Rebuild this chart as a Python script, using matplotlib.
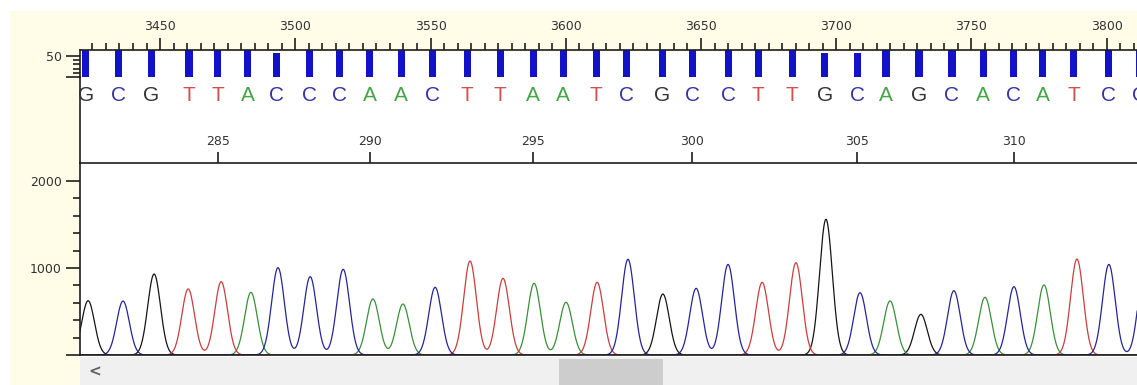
"""Sanger trace view: scan axis, quality bars, base calls and the four-dye chromatogram."""
import numpy as np
import matplotlib.pyplot as plt
import matplotlib.transforms as mtransforms
from matplotlib.patches import Rectangle

W, H = 1137, 385

# data
scan_ticks = [3450, 3500, 3550, 3600, 3650, 3700, 3750, 3800]
bases = "GCGTTACCCAACTTAATCGCCTTGCAGCACATCC"
first_base = 281
base_numbers = [285, 290, 295, 300, 305, 310]
# base call positions (scan units)
base_pos = [3422.6, 3434.8, 3446.7, 3460.7, 3471.4, 3482.5, 3492.9, 3505.1,
            3516.5, 3527.6, 3539.1, 3550.6, 3563.5, 3575.7, 3587.9, 3599.0,
            3611.2, 3622.6, 3635.6, 3646.7, 3660.0, 3671.1, 3683.7, 3695.8,
            3707.7, 3718.4, 3730.6, 3742.8, 3754.3, 3765.7, 3776.4, 3787.9,
            3800.5, 3812.3]
quality = [64, 64, 64, 64, 64, 64, 57, 64, 64, 64, 64, 64, 64, 64, 64, 64,
           64, 64, 64, 64, 64, 64, 64, 57, 57, 64, 64, 64, 64, 64, 64, 64,
           64, 64]
# trace peaks (scan units / signal)
peak_pos = [3423.4, 3436.3, 3447.8, 3460.4, 3472.6, 3483.6, 3493.6, 3505.5,
            3517.7, 3528.7, 3539.8, 3551.7, 3564.6, 3576.8, 3588.3, 3600.1,
            3611.6, 3623.0, 3635.9, 3648.2, 3660.0, 3672.6, 3685.1, 3696.2,
            3708.8, 3719.9, 3731.3, 3743.5, 3755.0, 3765.7, 3776.8, 3789.0,
            3800.8, 3814.0]
peak_height = [624, 620, 931, 759, 843, 720, 1004, 900, 985, 644, 586, 778,
               1080, 881, 824, 606, 835, 1100, 701, 766, 1041, 835, 1061, 1560,
               716, 621, 467, 739, 663, 785, 805, 1103, 1041, 1000]

trace_col = {'G': '#151515', 'C': '#25259a', 'T': '#cc3d3d', 'A': '#3a8f3a'}
letter_col = {'G': '#333333', 'C': '#3434a8', 'T': '#d45050', 'A': '#45a545'}
cream = '#fffde8'
ink = '#1e1e1e'

XMIN, XMAX = 3420.4, 3811.2


def rect(x0, y0, x1, y1):
    # pixel box (top-left origin) -> figure fraction
    return [x0 / W, 1 - y1 / H, (x1 - x0) / W, (y1 - y0) / H]


fig = plt.figure(figsize=(W / 100, H / 100), dpi=100)
fig.patch.set_facecolor('white')
fig.patches.append(Rectangle((10 / W, 0), 1, 1 - 11 / H, transform=fig.transFigure,
                             facecolor=cream, edgecolor='none', zorder=-10))
fig.patches.append(Rectangle((80 / W, 28 / H), 1, (355 - 50) / H, transform=fig.transFigure,
                             facecolor='white', edgecolor='none', zorder=-9))

# --- quality bars with the scan axis on top
ax_q = fig.add_axes(rect(80, 50, 1137, 77))
ax_q.set_facecolor('none')
ax_q.bar(base_pos, quality, width=2.6, color='#1212c8', zorder=2)
ax_q.set_xlim(XMIN, XMAX)
ax_q.set_ylim(0, 64)
for s in ['right', 'bottom']:
    ax_q.spines[s].set_visible(False)
for s in ['top', 'left']:
    ax_q.spines[s].set_linewidth(1.2)
    ax_q.spines[s].set_color(ink)
ax_q.xaxis.set_ticks_position('top')
ax_q.set_xticks(scan_ticks)
ax_q.set_xticks(np.arange(3425, 3815, 5), minor=True)
ax_q.tick_params(axis='x', which='major', direction='out', length=9, width=1.2,
                 color=ink, labelsize=9, labelcolor='#333333', pad=3.5)
ax_q.tick_params(axis='x', which='minor', direction='out', length=5, width=1.2, color=ink)
ax_q.set_yticks([0, 50])
ax_q.set_yticklabels(['', '50'])
ax_q.set_yticks([10, 20, 30, 40], minor=True)
ax_q.tick_params(axis='y', which='major', length=10, width=1.2, color=ink,
                 labelsize=9, labelcolor='#333333', pad=3)
ax_q.tick_params(axis='y', which='minor', length=5, width=1.2, color=ink)

# --- base call letters
ax_b = fig.add_axes(rect(80, 77, 1137, 163))
ax_b.set_facecolor('none')
ax_b.set_xlim(XMIN, XMAX)
ax_b.set_xticks([])
ax_b.set_yticks([])
for s in ['right', 'bottom', 'top']:
    ax_b.spines[s].set_visible(False)
ax_b.spines['left'].set_linewidth(1.2)
ax_b.spines['left'].set_color(ink)
tr = mtransforms.blended_transform_factory(ax_b.transData, ax_b.transAxes)
for p, b in zip(base_pos, bases):
    ax_b.text(p, 0.79, b, transform=tr, ha='center', va='center', fontsize=15,
              family='Liberation Sans', color=letter_col[b], clip_on=False)

# --- chromatogram
ax = fig.add_axes(rect(80, 163, 1137, 355))
ax.set_facecolor('none')
x = np.linspace(XMIN - 5, XMAX + 5, 3000)
sigma = 2.35
for b in ['G', 'A', 'T', 'C']:
    y = np.zeros_like(x)
    for p, h, c in zip(peak_pos, peak_height, bases):
        if c == b:
            y += h * np.exp(-(x - p) ** 2 / (2 * sigma ** 2))
    ax.plot(x, y, color=trace_col[b], lw=0.9)
ax.set_xlim(XMIN, XMAX)
ax.set_ylim(0, 2207)
ax.spines['right'].set_visible(False)
for s in ['top', 'left', 'bottom']:
    ax.spines[s].set_linewidth(1.2)
    ax.spines[s].set_color(ink)
ax.xaxis.set_ticks_position('top')
ax.set_xticks([base_pos[n - first_base] for n in base_numbers])
ax.set_xticklabels([str(n) for n in base_numbers])
ax.tick_params(axis='x', direction='out', length=8, width=1.2, color=ink,
               labelsize=9, labelcolor='#333333', pad=2.5)
ax.set_yticks([0, 1000, 2000])
ax.set_yticklabels(['', '1000', '2000'])
ax.set_yticks([200, 400, 600, 800, 1200, 1400, 1600, 1800], minor=True)
ax.tick_params(axis='y', which='major', length=10, width=1.2, color=ink,
               labelsize=9, labelcolor='#333333', pad=3)
ax.tick_params(axis='y', which='minor', length=5, width=1.2, color=ink)

# --- scroll bar
fig.patches.append(Rectangle((80 / W, 0), 1, (385 - 357) / H, transform=fig.transFigure,
                             facecolor='#f0f0f0', edgecolor='none', zorder=5))
fig.patches.append(Rectangle((559 / W, 0), (663 - 559) / W, (385 - 359) / H,
                             transform=fig.transFigure, facecolor='#cdcdcd',
                             edgecolor='none', zorder=6))
fig.text(95 / W, 1 - 372 / H, '<', ha='center', va='center', fontsize=11,
         fontweight='bold', color='#606060', zorder=7)

fig.savefig('out.png', dpi=100)
